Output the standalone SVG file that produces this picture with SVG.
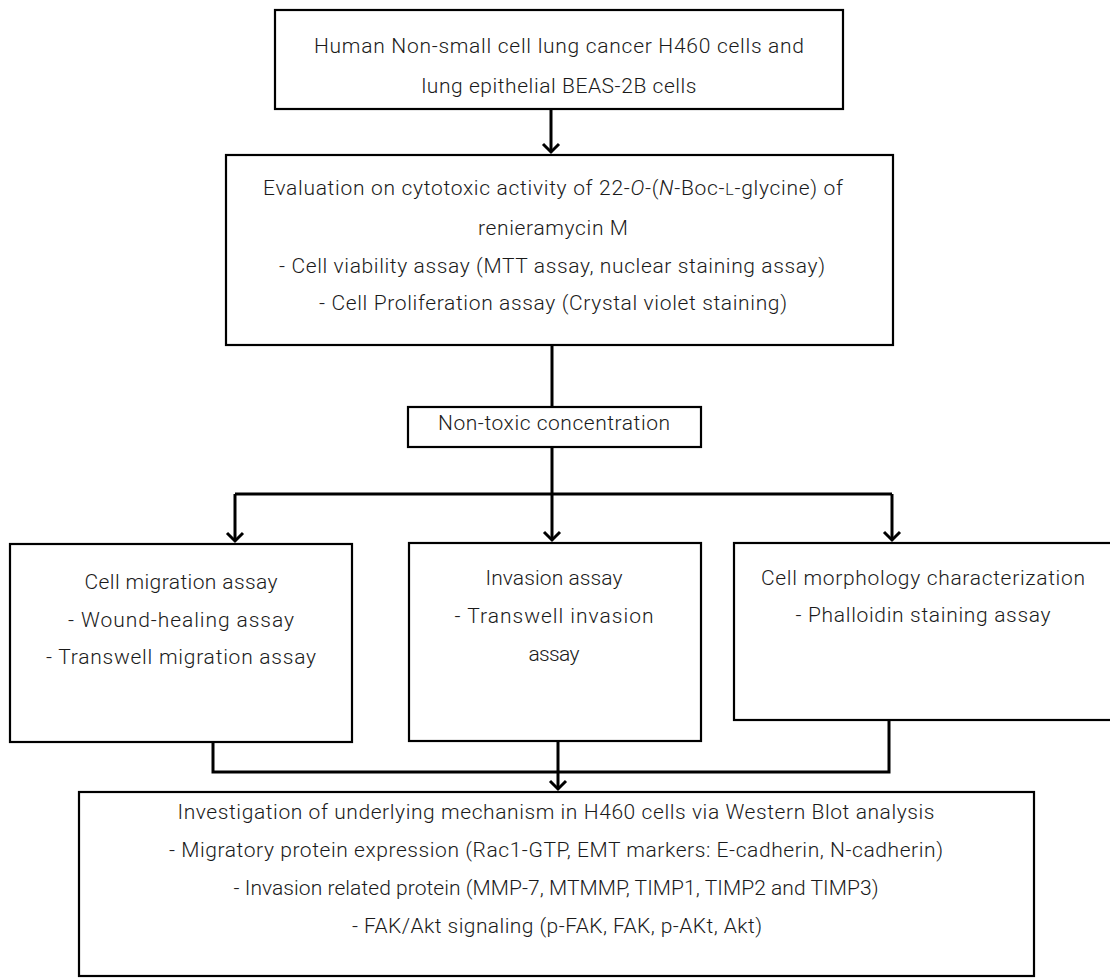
<svg xmlns="http://www.w3.org/2000/svg" width="1110" height="979" viewBox="0 0 1110 979">
<defs>
<style>
.box{fill:#fff;stroke:#000;stroke-width:2.2}
.t{font-family:Roboto,"Open Sans","Liberation Sans",sans-serif;font-size:21px;font-weight:300;fill:#1a1a1a;text-anchor:middle}
.c{fill:none;stroke:#000;stroke-width:3}
</style>
<marker id="ah" viewBox="-12 -12 24 24" markerWidth="24" markerHeight="24" refX="0" refY="0" orient="auto" markerUnits="userSpaceOnUse">
<path d="M-8,-8 L0,0 L-8,8" fill="none" stroke="#000" stroke-width="3"/>
</marker>
</defs>
<rect width="1110" height="979" fill="#fff"/>

<g id="connectors">
<line class="c" x1="551" y1="109" x2="551" y2="152" marker-end="url(#ah)"/>
<line class="c" x1="552" y1="345" x2="552" y2="407"/>
<line class="c" x1="552" y1="447" x2="552" y2="540" marker-end="url(#ah)"/>
<polyline class="c" points="235,494 892,494"/>
<line class="c" x1="235" y1="494" x2="235" y2="541" marker-end="url(#ah)"/>
<line class="c" x1="892" y1="494" x2="892" y2="540" marker-end="url(#ah)"/>
<polyline class="c" points="213,742 213,772 889,772 889,720"/>
<line class="c" x1="558" y1="741" x2="558" y2="789" marker-end="url(#ah)"/>
</g>

<g id="node-cells">
<rect class="box" x="275" y="10" width="568" height="99"/>
<text class="t" x="559" y="53" textLength="490" lengthAdjust="spacing">Human Non-small cell lung cancer H460 cells and</text>
<text class="t" x="559" y="93" textLength="275" lengthAdjust="spacing">lung epithelial BEAS-2B cells</text>
</g>

<g id="node-cytotoxic">
<rect class="box" x="226" y="155" width="667" height="190"/>
<text class="t" x="553" y="195" textLength="580" lengthAdjust="spacing">Evaluation on cytotoxic activity of 22-<tspan font-style="italic">O</tspan>-(<tspan font-style="italic">N</tspan>-Boc-<tspan font-size="16">L</tspan>-glycine) of</text>
<text class="t" x="553" y="235" textLength="150" lengthAdjust="spacing">renieramycin M</text>
<text class="t" x="552" y="273" textLength="546" lengthAdjust="spacing">-  Cell viability assay (MTT assay, nuclear staining assay)</text>
<text class="t" x="553" y="310" textLength="468" lengthAdjust="spacing">-  Cell Proliferation assay (Crystal violet staining)</text>
</g>

<g id="node-nontoxic">
<rect class="box" x="408" y="407" width="293" height="40"/>
<text class="t" x="554" y="430" textLength="232" lengthAdjust="spacing">Non-toxic concentration</text>
</g>

<g id="node-migration">
<rect class="box" x="10" y="544" width="342" height="198"/>
<text class="t" x="181" y="589" textLength="193" lengthAdjust="spacing">Cell migration assay</text>
<text class="t" x="181" y="627" textLength="226" lengthAdjust="spacing">-  Wound-healing assay</text>
<text class="t" x="181" y="664" textLength="270" lengthAdjust="spacing">-  Transwell migration assay</text>
</g>

<g id="node-invasion">
<rect class="box" x="409" y="543" width="292" height="198"/>
<text class="t" x="554" y="585" textLength="137" lengthAdjust="spacing">Invasion assay</text>
<text class="t" x="554" y="623" textLength="199" lengthAdjust="spacing">-  Transwell invasion</text>
<text class="t" x="554" y="661" textLength="51" lengthAdjust="spacing">assay</text>
</g>

<g id="node-morphology">
<rect class="box" x="734" y="543" width="380" height="177"/>
<text class="t" x="923" y="585" textLength="324" lengthAdjust="spacing">Cell morphology characterization</text>
<text class="t" x="923" y="622" textLength="255" lengthAdjust="spacing">-  Phalloidin staining assay</text>
</g>

<g id="node-western">
<rect class="box" x="79" y="792" width="955" height="184"/>
<text class="t" x="556" y="819" textLength="757" lengthAdjust="spacing">Investigation of underlying mechanism in H460 cells via Western Blot analysis</text>
<text class="t" x="556" y="857" textLength="774" lengthAdjust="spacing">-  Migratory protein expression (Rac1-GTP, EMT markers: E-cadherin, N-cadherin)</text>
<text class="t" x="556" y="895" textLength="645" lengthAdjust="spacing">- Invasion related protein (MMP-7, MTMMP, TIMP1, TIMP2 and TIMP3)</text>
<text class="t" x="557" y="933" textLength="410" lengthAdjust="spacing">- FAK/Akt signaling (p-FAK, FAK, p-AKt, Akt)</text>
</g>
</svg>
